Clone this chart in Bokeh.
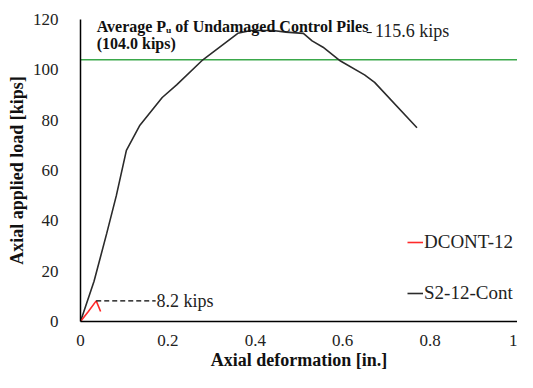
from bokeh.plotting import figure
from bokeh.models import Range1d, Legend, LegendItem, FixedTicker
from bokeh.core.properties import value
from bokeh.embed import file_html
from bokeh.resources import INLINE

# S2-12-Cont curve (deformation in., load kips)
s2_x = [0, 0.031, 0.06, 0.082, 0.105, 0.136, 0.187, 0.22, 0.28, 0.36, 0.39, 0.44,
        0.47, 0.51, 0.53, 0.555, 0.595, 0.65, 0.673, 0.77]
s2_y = [0, 16, 35, 50, 68, 78, 89, 94, 104, 114.5, 115.6, 115.6,
        115, 114.5, 111.5, 109, 103.5, 98, 95, 77]

# DCONT-12 curve
dc_x = [0, 0.018, 0.036, 0.046]
dc_y = [0, 4, 8.2, 4]

avg_control = 104.0
peak_s2 = 115.6
peak_dc = 8.2

x_ticks = [0, 0.2, 0.4, 0.6, 0.8, 1]
y_ticks = [0, 20, 40, 60, 80, 100, 120]

SERIF = "Liberation Serif"

p = figure(width=517, height=372, output_backend="svg", toolbar_location=None,
           x_range=Range1d(0, 1.0), y_range=Range1d(0, 120),
           min_border_left=80, min_border_right=0, min_border_top=19,
           min_border_bottom=46)
p.grid.visible = False
p.outline_line_color = None
p.background_fill_color = "white"
p.border_fill_color = "white"

for ax in (p.xaxis[0], p.yaxis[0]):
    ax.axis_line_color = "black"
    ax.axis_line_width = 1.5
    ax.major_tick_line_color = None
    ax.minor_tick_line_color = None
    ax.major_label_text_font = SERIF
    ax.major_label_text_font_size = "17px"
    ax.major_label_text_color = "#222222"
    ax.axis_label_text_font = SERIF
    ax.axis_label_text_font_style = "bold"
    ax.axis_label_text_font_size = "18px"
    ax.axis_label_text_color = "#111111"

p.xaxis.ticker = FixedTicker(ticks=x_ticks)
p.yaxis.ticker = FixedTicker(ticks=y_ticks)
p.xaxis.major_label_overrides = {0: "0", 1: "1"}
p.xaxis.major_label_standoff = 7
p.yaxis.major_label_standoff = 16
p.xaxis.axis_label = "Axial deformation [in.]"
p.yaxis.axis_label = "Axial applied load [kips]"
p.xaxis.axis_label_standoff = 1
p.yaxis.axis_label_standoff = 3

# green reference line
p.line([0, 1.0], [avg_control, avg_control], line_color="#3aa84a", line_width=1.6)

r_s2 = p.line(s2_x, s2_y, line_color="#2b2b2b", line_width=1.6)
r_dc = p.line(dc_x, dc_y, line_color="#ff2a2a", line_width=1.6)

# annotations
p.segment(x0=[dc_x[2]], y0=[peak_dc], x1=[0.172], y1=[peak_dc],
          line_color="black", line_width=1.2, line_dash="5 3")
p.text(x=[0.174], y=[peak_dc], text=["8.2 kips"], text_font=value(SERIF),
       text_font_size="18px", text_baseline="middle", text_align="left",
       text_color="#222222")

p.segment(x0=[0.655], y0=[peak_s2 - 0.8], x1=[0.672], y1=[peak_s2 - 0.8],
          line_color="black", line_width=1.0, line_dash="5 3")
p.text(x=[0.674], y=[peak_s2], text=["115.6 kips"], text_font=value(SERIF),
       text_font_size="18px", text_baseline="middle", text_align="left",
       text_color="#222222")

p.text(x=[0.037], y=[avg_control + 13.4], text=["Average P\u1d64 of Undamaged Control Piles"],
       text_font=value(SERIF), text_font_size="16px", text_font_style="bold",
       text_baseline="middle", text_align="left", text_color="#111111")
p.text(x=[0.037], y=[avg_control + 6.6], text=["(104.0 kips)"],
       text_font=value(SERIF), text_font_size="16px", text_font_style="bold",
       text_baseline="middle", text_align="left", text_color="#111111")

legend = Legend(items=[LegendItem(label="DCONT-12", renderers=[r_dc]),
                       LegendItem(label="S2-12-Cont", renderers=[r_s2])],
                location=(327, 17), orientation="vertical",
                border_line_color=None, background_fill_alpha=0,
                padding=0, margin=0, spacing=29, glyph_width=16, glyph_height=20,
                label_height=20, label_standoff=1,
                label_text_font=SERIF, label_text_font_size="19px",
                label_text_color="#222222")
p.add_layout(legend)

open("out.html", "w").write(file_html(p, INLINE))
